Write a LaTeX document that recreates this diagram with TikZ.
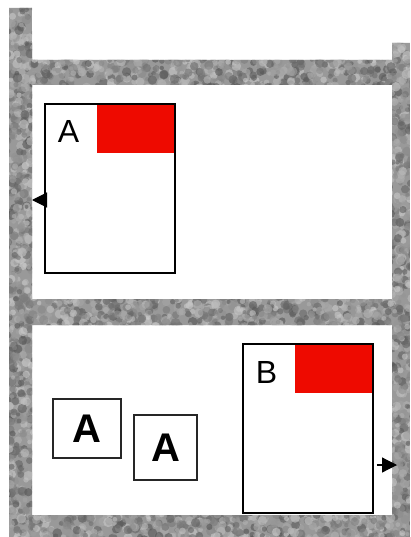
\documentclass[tikz,border=0pt]{standalone}
\usepackage{fontspec}
\setmainfont{Liberation Sans}
\usetikzlibrary{arrows.meta}
\definecolor{boxred}{RGB}{238,10,0}
\newcommand\noisefill[5]{%
  \foreach \k in {1,...,#5}{%
    \pgfmathsetmacro\nx{#1+rnd*(#3-#1)}%
    \pgfmathsetmacro\ny{#2+rnd*(#4-#2)}%
    \pgfmathsetmacro\nr{2+rnd*3}%
    \pgfmathtruncatemacro\ng{20+rnd*48}%
    \fill[black!\ng, opacity=0.6] (\nx,\ny) circle[radius=\nr];
  }}
\tikzset{
  bigbox/.style={draw=black, line width=1.6pt, minimum width=130pt, minimum height=169pt, inner sep=0pt},
  smallbox/.style={draw=black!85, line width=1.3pt, inner sep=0pt, font=\fontsize{40}{40}\selectfont\bfseries},
  biglabel/.style={inner sep=0pt, font=\fontsize{32}{32}\selectfont},
  portarrow/.style={line width=1.2pt, -{Triangle[length=15pt,width=15pt]}}
}
\begin{document}
\begin{tikzpicture}[x=1pt,y=-1pt]
\useasboundingbox (0,0) rectangle (410,537);
\pgfmathsetseed{7}
% textured frame
\begin{scope}
  \clip (9,8) rectangle (32,537) (9,60) rectangle (392,85) (392,43) rectangle (410,537)
        (9,299) rectangle (410,325) (9,515) rectangle (410,537);
  \fill[black!40] (9,8) rectangle (32,537) (9,60) rectangle (392,85) (392,43) rectangle (410,537)
        (9,299) rectangle (410,325) (9,515) rectangle (410,537);
  \noisefill{6}{5}{35}{540}{700}
  \noisefill{32}{57}{392}{88}{520}
  \noisefill{389}{40}{413}{540}{520}
  \noisefill{32}{296}{392}{328}{560}
  \noisefill{32}{512}{392}{540}{480}
\end{scope}
% box A
\fill[boxred] (97,104) rectangle (174,153);
\node[bigbox] (boxA) at (110,188.5) {};
\node[biglabel, anchor=base] (labA) at (68.5,143) {A};
\coordinate (inA) at (32,200);
\draw[portarrow] ([yshift=-11.5pt]boxA.west) -- (inA);
% box B
\fill[boxred] (295,344) rectangle (372,393);
\node[bigbox] (boxB) at (308,428.5) {};
\node[biglabel, anchor=base] (labB) at (266.5,383) {B};
\coordinate (outB) at (397,465);
\draw[portarrow] ([xshift=3pt,yshift=-36.5pt]boxB.east) -- (outB);
% small boxes
\node[smallbox, minimum width=68pt, minimum height=59pt] (smallA) at (87,428.5) {A};
\node[smallbox, minimum width=63pt, minimum height=65pt] (smallB) at (165.5,447.5) {A};
\end{tikzpicture}
\end{document}
